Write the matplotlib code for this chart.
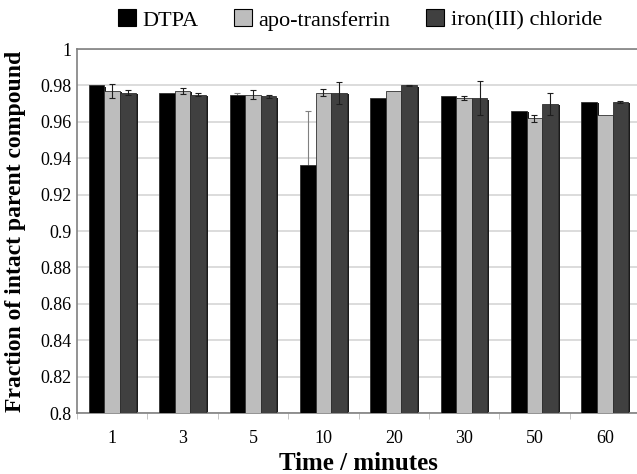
import matplotlib
matplotlib.use("Agg")
import matplotlib.pyplot as plt
import numpy as np
from matplotlib.patches import Patch

categories = ["1", "3", "5", "10", "20", "30", "50", "60"]
series_names = ["DTPA", "apo-transferrin", "iron(III) chloride"]
dtpa = [0.980, 0.976, 0.975, 0.936, 0.973, 0.974, 0.966, 0.971]
dtpa_err = [0.0, 0.0, 0.0007, 0.030, 0.0, 0.0, 0.0, 0.0]
apo = [0.977, 0.977, 0.975, 0.976, 0.977, 0.973, 0.962, 0.964]
apo_err = [0.0038, 0.0018, 0.0025, 0.002, 0.0, 0.0012, 0.002, 0.0]
iron = [0.976, 0.975, 0.974, 0.976, 0.980, 0.973, 0.970, 0.971]
iron_err = [0.0012, 0.0006, 0.0008, 0.006, 0.0004, 0.0092, 0.006, 0.0006]
yticks = [0.8, 0.82, 0.84, 0.86, 0.88, 0.9, 0.92, 0.94, 0.96, 0.98, 1]
ytick_labels = ["0.8", "0.82", "0.84", "0.86", "0.88", "0.9", "0.92", "0.94", "0.96", "0.98", "1"]

colors = ["#000000", "#bdbdbd", "#404040"]

plt.rcParams['font.family'] = ['Liberation Serif', 'DejaVu Serif']

fig = plt.figure(figsize=(6.37, 4.74), dpi=100)
ax = fig.add_axes([77/637, 61/474, 563/637, 364/474])

x = np.arange(len(categories))
w = 0.222
data = [dtpa, apo, iron]
errs = [dtpa_err, apo_err, iron_err]
for i, (vals, er) in enumerate(zip(data, errs)):
    pos = x - w + i * w
    # drop shadow
    ax.bar(pos + 0.028, np.array(vals) - 0.0008, width=w, bottom=0, color="#1a1a1a",
           edgecolor="none", zorder=2)
    ax.bar(pos, vals, width=w, color=colors[i], edgecolor="#303030", linewidth=0.6, zorder=3)
    e = np.array(er)
    mask = e > 0
    ax.errorbar(pos[mask], np.array(vals)[mask], yerr=e[mask], fmt="none",
                ecolor="#1e1e1e" if i else "#808080", elinewidth=0.8, capsize=2.5,
                capthick=0.8, zorder=4 if i else 2.9)

ax.set_ylim(0.8, 1.0)
ax.set_xlim(-0.5, len(categories) - 0.5)
ax.set_yticks(yticks)
ax.set_yticklabels(ytick_labels, fontsize=13)
ax.set_xticks(x)
ax.set_xticklabels(categories, fontsize=13)
ax.tick_params(axis="x", length=0, pad=12)
ax.tick_params(axis="y", length=0, pad=4)
ax.set_xticks(np.arange(len(categories) + 1) - 0.5, minor=True)
ax.tick_params(axis="x", which="minor", length=4, color="#bbbbbb", direction="out")
ax.yaxis.grid(True, color="#d6d6d6", linewidth=1.2, zorder=0)
ax.set_axisbelow(True)
for s in ["left", "bottom", "top"]:
    ax.spines[s].set_color("#808080")
    ax.spines[s].set_linewidth(1.2)
ax.spines["right"].set_visible(False)

ax.set_xlabel("Time / minutes", fontsize=18, fontweight="bold", labelpad=4)
ax.set_ylabel("Fraction of intact parent compound", fontsize=17, fontweight="bold", labelpad=10)

handles = [Patch(facecolor=c, edgecolor="#000000", linewidth=0.8) for c in colors]
fig.legend(handles, series_names, loc="center", bbox_to_anchor=(360/637, 1 - 20/474),
           ncol=3, frameon=False, fontsize=16, handlelength=0.8, handleheight=0.8,
           handletextpad=0.3, columnspacing=1.6)

fig.savefig("out.png", dpi=100)
